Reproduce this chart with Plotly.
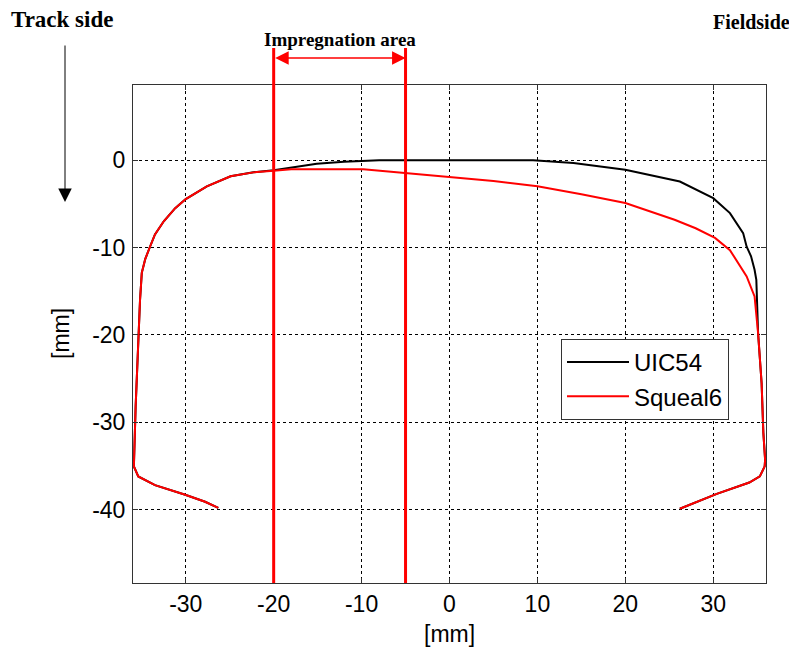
import plotly.graph_objects as go

# ---- data ----
uic54_x = [-26.3, -27.8, -30.06, -33.5, -35.4, -35.9, -35.7, -35.5, -35.4, -35.2, -35.0,
           -34.6, -34.1, -33.5, -32.5, -31.2, -30.0, -27.6, -24.9, -22.3, -20.0, -17.5, -15.1,
           -12.0, -9.8, -8.0, 0.0, 9.5, 14.1, 20.0, 26.2, 30.0, 31.9, 33.4, 33.8, 34.3, 34.7,
           34.9, 35.0, 35.1, 35.5, 35.7, 35.9, 35.85, 35.3, 34.1, 30.4, 26.2]
uic54_y = [-39.8, -39.1, -38.3, -37.2, -36.2, -35.06, -28.2, -23.6, -19.8, -16.0, -12.9,
           -11.3, -10.0, -8.5, -7.0, -5.5, -4.46, -3.0, -1.85, -1.38, -1.16, -0.75, -0.42,
           -0.18, -0.05, 0.0, 0.0, 0.0, -0.34, -1.1, -2.45, -4.35, -6.06, -8.35, -9.9, -11.0,
           -12.55, -13.7, -16.75, -19.8, -25.5, -31.2, -34.3, -35.05, -36.2, -36.9, -38.2, -39.9]

squeal6_x = [-26.3, -27.8, -30.06, -33.5, -35.4, -35.9, -35.7, -35.5, -35.4, -35.2, -35.0,
             -34.6, -34.1, -33.5, -32.5, -31.2, -30.0, -27.6, -24.9, -22.3, -20.0, -18.0,
             -9.8, -4.9, -1.0, 5.0, 10.0, 15.0, 20.0, 25.6, 28.0, 30.2, 31.9, 32.6, 33.8,
             34.7, 35.1, 35.5, 35.7, 35.9, 35.85, 35.3, 34.1, 30.4, 26.2]
squeal6_y = [-39.8, -39.1, -38.3, -37.2, -36.2, -35.06, -28.2, -23.6, -19.8, -16.0, -12.9,
             -11.3, -10.0, -8.5, -7.0, -5.5, -4.46, -3.0, -1.85, -1.4, -1.22, -1.03,
             -1.03, -1.5, -1.8, -2.4, -3.0, -3.9, -4.9, -6.83, -7.8, -8.9, -10.3, -11.4, -13.3,
             -15.6, -19.8, -25.5, -31.2, -34.3, -35.05, -36.2, -36.9, -38.2, -39.9]

series_names = ["UIC54", "Squeal6"]
impregnation_bounds = [-20, -5]
x_ticks = [-30, -20, -10, 0, 10, 20, 30]
x_ticklabels = ["-30", "-20", "-10", "0", "10", "20", "30"]
y_ticks = [-40, -30, -20, -10, 0]
y_ticklabels = ["-40", "-30", "-20", "-10", "0"]

# page offset caused by the default 8px body margin
OFF = 8
W, H = 797 - OFF, 653 - OFF
L = 133 - OFF
T = 85 - OFF
R = W - (766 - OFF)
B = H - (583 - OFF)
pw, ph = W - L - R, H - T - B


def px(xp):
    return (xp - OFF - L) / pw


def py(yp):
    return (H - B - (yp - OFF)) / ph


SANS = "Liberation Sans, Arial, sans-serif"
SERIF = "Liberation Serif, Times New Roman, serif"

fig = go.Figure()
fig.add_trace(go.Scatter(x=uic54_x, y=uic54_y, mode="lines", name=series_names[0],
                         line=dict(color="black", width=2)))
fig.add_trace(go.Scatter(x=squeal6_x, y=squeal6_y, mode="lines", name=series_names[1],
                         line=dict(color="#ff0000", width=2)))

for b in impregnation_bounds:
    fig.add_shape(type="line", xref="x", yref="paper", x0=b, x1=b, y0=0, y1=py(48),
                  line=dict(color="#ff0000", width=3))

# right-hand "Fieldside" arrow, mostly beyond the page edge
fig.add_shape(type="line", xref="paper", yref="paper", x0=px(797), x1=px(797),
              y0=py(44), y1=py(190), line=dict(color="black", width=1))
fig.add_shape(type="path", xref="paper", yref="paper",
              path=f"M {px(790)} {py(188)} L {px(804)} {py(188)} L {px(797)} {py(202)} Z",
              fillcolor="black", line=dict(color="black", width=1))

annotations = [
    dict(x=impregnation_bounds[1], y=py(58), xref="x", yref="paper",
         ax=impregnation_bounds[0], ay=0, axref="x", ayref="pixel",
         text="", showarrow=True, arrowhead=2, startarrowhead=2, arrowside="end+start",
         arrowwidth=1.5, arrowsize=1.8, startarrowsize=1.8, arrowcolor="#ff0000"),
    dict(x=sum(impregnation_bounds) / 2, y=py(40), xref="x", yref="paper",
         text="<b>Impregnation area</b>", showarrow=False, xanchor="center", yanchor="middle",
         font=dict(family=SERIF, size=19, color="black")),
    dict(x=px(62), y=py(20), xref="paper", yref="paper", text="<b>Track side</b>",
         showarrow=False, xanchor="center", yanchor="middle",
         font=dict(family=SERIF, size=23, color="black")),
    dict(x=px(711), y=py(22), xref="paper", yref="paper", text="<b>Fieldside</b>",
         showarrow=False, xanchor="left", yanchor="middle",
         font=dict(family=SERIF, size=20, color="black")),
    dict(x=px(65), y=py(202), xref="paper", yref="paper", ax=0, ay=-158,
         axref="pixel", ayref="pixel", text="", showarrow=True, arrowhead=2,
         arrowwidth=1, arrowsize=2.7, arrowcolor="black"),
    dict(x=px(61), y=0.5, xref="paper", yref="paper", text="[mm]", textangle=-90,
         showarrow=False, xanchor="center", yanchor="middle",
         font=dict(family=SANS, size=23, color="black")),
    dict(x=0.5, y=py(634), xref="paper", yref="paper", text="[mm]",
         showarrow=False, xanchor="center", yanchor="middle",
         font=dict(family=SANS, size=23, color="black")),
]

axis_common = dict(showline=True, linecolor="#333333", linewidth=1, mirror="ticks",
                   ticks="inside", ticklen=5, tickcolor="#333333",
                   showgrid=True, gridcolor="black", gridwidth=1, griddash="3px,3px",
                   zeroline=False, tickfont=dict(family=SANS, size=23, color="black"))

fig.update_layout(
    width=W, height=H,
    margin=dict(l=L, r=R, t=T, b=B, pad=0),
    paper_bgcolor="white", plot_bgcolor="white",
    xaxis=dict(range=[-36, 36], tickvals=x_ticks, ticktext=x_ticklabels, **axis_common),
    yaxis=dict(range=[-48.4, 8.6], tickvals=y_ticks, ticktext=y_ticklabels,
               ticklabelstandoff=2, **axis_common),
    legend=dict(x=px(561), y=py(339), xanchor="left", yanchor="top",
                bgcolor="white", bordercolor="#333333", borderwidth=1,
                font=dict(family=SANS, size=24, color="black"),
                tracegroupgap=0, itemwidth=62),
    showlegend=True,
    annotations=annotations,
)

fig.write_html("out.html")
